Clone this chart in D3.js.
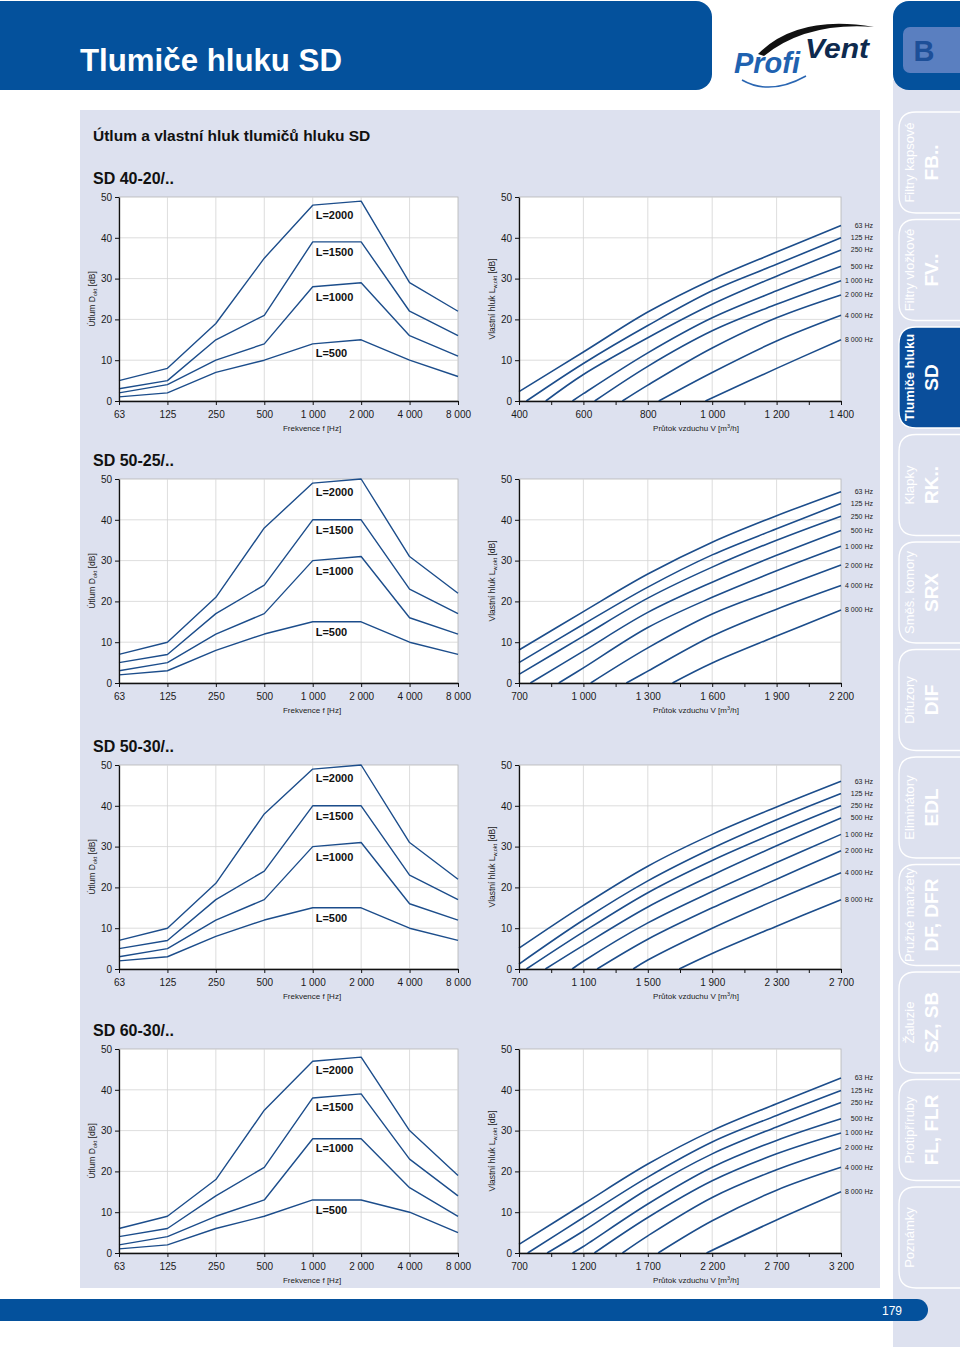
<!DOCTYPE html>
<html>
<head>
<meta charset="utf-8">
<script src="https://cdnjs.cloudflare.com/ajax/libs/d3/7.8.5/d3.min.js"></script>
<style>
body { margin: 0; background: #fff; }
svg { display: block; font-family: "Liberation Sans", Arial, Helvetica, sans-serif; }
</style>
</head>
<body>
<svg id="page" width="960" height="1347"></svg>
<script>
// ---- data ----
var freqCats = ["63", "125", "250", "500", "1 000", "2 000", "4 000", "8 000"];
var lengthNames = ["L=500", "L=1000", "L=1500", "L=2000"];
var bandNames = ["63 Hz", "125 Hz", "250 Hz", "500 Hz", "1 000 Hz", "2 000 Hz", "4 000 Hz", "8 000 Hz"];
var modelNames = ["SD 40-20/..", "SD 50-25/..", "SD 50-30/..", "SD 60-30/.."];
var dbTicks = [0, 10, 20, 30, 40, 50];

// attenuation D_okt [dB], one row per length L=500..2000
var att4020 = [[1, 2, 7, 10, 14, 15, 10, 6], [2, 4, 10, 14, 28, 29, 16, 11], [3, 5, 15, 21, 39, 39, 22, 16], [5, 8, 19, 35, 48, 49, 29, 22]];
var att5025 = [[2, 3, 8, 12, 15, 15, 10, 7], [3, 5, 12, 17, 30, 31, 16, 12], [5, 7, 17, 24, 40, 40, 23, 17], [7, 10, 21, 38, 49, 50, 31, 22]];
var att5030 = [[2, 3, 8, 12, 15, 15, 10, 7], [3, 5, 12, 17, 30, 31, 16, 12], [5, 7, 17, 24, 40, 40, 23, 17], [7, 10, 21, 38, 49, 50, 31, 22]];
var att6030 = [[1, 2, 6, 9, 13, 13, 10, 5], [2, 4, 9, 13, 28, 28, 16, 9], [4, 6, 14, 21, 38, 39, 23, 14], [6, 9, 18, 35, 47, 48, 30, 19]];

// where the L=... labels sit (dB value)
var lab4020 = [11.7, 25.5, 36.5, 45.5];
var lab5025 = [12.4, 27.5, 37.5, 46.7];
var lab5030 = [12.4, 27.5, 37.5, 46.7];
var lab6030 = [10.4, 25.6, 35.7, 44.8];

// air flow axis ticks [m3/h]
var flow4020 = [400, 600, 800, 1000, 1200, 1400];
var flow5025 = [700, 1000, 1300, 1600, 1900, 2200];
var flow5030 = [700, 1100, 1500, 1900, 2300, 2700];
var flow6030 = [700, 1200, 1700, 2200, 2700, 3200];

// own noise L_w,okt [dB] vs flow, one curve per octave band 63..8000 Hz
var noise4020 = [
	[[400, 2.3], [600, 12], [800, 21.8], [1000, 29.8], [1200, 36.5], [1400, 43]],
	[[423, 0], [600, 9.2], [800, 18.5], [1000, 27], [1200, 33.5], [1400, 40]],
	[[483, 0], [600, 6.5], [800, 15.5], [1000, 23.7], [1200, 30.6], [1400, 37]],
	[[566, 0], [600, 1.8], [800, 11.8], [1000, 20.4], [1200, 27], [1400, 33]],
	[[635, 0], [800, 8.5], [1000, 17.2], [1200, 23.7], [1400, 29.5]],
	[[721, 0], [800, 3.9], [1000, 13], [1200, 20.4], [1400, 26]],
	[[834, 0], [1000, 7], [1200, 14.7], [1400, 21]],
	[[979, 0], [1200, 8], [1400, 15]]
];
var noise5025 = [
	[[700, 8.1], [1000, 17.5], [1300, 26.7], [1600, 34.5], [1900, 41], [2200, 46.9]],
	[[700, 5], [1000, 14.4], [1300, 23.5], [1600, 31.4], [1900, 37.8], [2200, 44]],
	[[700, 2.1], [1000, 11.5], [1300, 20.8], [1600, 28.4], [1900, 35], [2200, 40.9]],
	[[753, 0], [1000, 7.8], [1300, 17.3], [1600, 24.7], [1900, 31.3], [2200, 37.4]],
	[[885, 0], [1000, 3.7], [1300, 13.6], [1600, 21], [1900, 27.5], [2200, 33.5]],
	[[1034, 0], [1300, 8.6], [1600, 16.9], [1900, 23], [2200, 28.9]],
	[[1200, 0], [1300, 2.9], [1600, 11.5], [1900, 18.1], [2200, 23.9]],
	[[1415, 0], [1600, 4.9], [1900, 11.5], [2200, 17.9]]
];
var noise5030 = [
	[[700, 5.1], [1100, 15.6], [1500, 25.2], [1900, 33], [2300, 39.7], [2700, 46]],
	[[700, 1.2], [1100, 12], [1500, 21.6], [1900, 29.6], [2300, 36.6], [2700, 43]],
	[[746, 0], [1100, 9.1], [1500, 18.7], [1900, 26.6], [2300, 33.5], [2700, 40]],
	[[864, 0], [1100, 5.8], [1500, 15.2], [1900, 23], [2300, 30.2], [2700, 37]],
	[[1030, 0], [1100, 1.9], [1500, 11.3], [1900, 19], [2300, 26.1], [2700, 33]],
	[[1185, 0], [1500, 7.3], [1900, 15], [2300, 22], [2700, 29]],
	[[1409, 0], [1500, 2.2], [1900, 10], [2300, 17], [2700, 23.6]],
	[[1695, 0], [1900, 3.8], [2300, 10.5], [2700, 17]]
];
var noise6030 = [
	[[700, 2.1], [1200, 12], [1700, 21.8], [2200, 30], [2700, 36.6], [3200, 42.9]],
	[[767, 0], [1200, 8.7], [1700, 18.6], [2200, 27.2], [2700, 33.7], [3200, 39.8]],
	[[918, 0], [1200, 5.4], [1700, 15.7], [2200, 24.3], [2700, 30.9], [3200, 36.9]],
	[[1115, 0], [1200, 1.6], [1700, 12], [2200, 21], [2700, 27.6], [3200, 32.9]],
	[[1285, 0], [1700, 8.7], [2200, 17.7], [2700, 24.3], [3200, 29.4]],
	[[1503, 0], [1700, 4.2], [2200, 13.6], [2700, 20.4], [3200, 25.8]],
	[[1780, 0], [2200, 7.9], [2700, 15.4], [3200, 21]],
	[[2156, 0], [2700, 8.1], [3200, 15]]
];

// side register tabs
var tabSmall = ["Filtry kapsové", "Filtry vložkové", "Tlumiče hluku", "Klapky", "Směš. komory", "Difuzory", "Eliminátory", "Pružné manžety", "Žaluzie", "Protipříruby", "Poznámky"];
var tabCode = ["FB..", "FV..", "SD", "RK..", "SRX", "DIF", "EDL", "DF, DFR", "SZ, SB", "FL, FLR", ""];
var activeTab = 2;

// ---- page ----
var svg = d3.select("#page");
var blue = "#04519c";
var lav = "#dde1ef";
var lineCol = "#1c4d8b";
var fmt = d3.formatLocale({ decimal: ",", thousands: " ", grouping: [3], currency: ["", ""] }).format(",");

//header band
svg.append("rect").attr("x", -20).attr("y", 1).attr("width", 732).attr("height", 89).attr("rx", 16).attr("fill", blue);
svg.append("text").attr("x", 80).attr("y", 71).attr("fill", "#fff")
	.attr("font-size", 32).attr("font-weight", "bold")
	.attr("textLength", 262).attr("lengthAdjust", "spacingAndGlyphs")
	.text("Tlumiče hluku SD");

//logo
svg.append("path").attr("d", "M758,54 Q798,14 874,27 Q806,22 764,56 Z").attr("fill", "#111");
svg.append("path").attr("d", "M742,80 Q770,96 806,76").attr("fill", "none").attr("stroke", "#2a66b2").attr("stroke-width", 1.5);
svg.append("text").attr("x", 734).attr("y", 73).attr("fill", "#1f62b0")
	.attr("font-size", 30).attr("font-weight", "bold").attr("font-style", "italic")
	.attr("textLength", 66).attr("lengthAdjust", "spacingAndGlyphs").text("Profi");
svg.append("text").attr("x", 805).attr("y", 58).attr("fill", "#0e2a4e")
	.attr("font-size", 28).attr("font-weight", "bold").attr("font-style", "italic")
	.attr("textLength", 64).attr("lengthAdjust", "spacingAndGlyphs").text("Vent");

//sidebar
svg.append("rect").attr("x", 893).attr("y", 80).attr("width", 67).attr("height", 1267).attr("fill", lav);
svg.append("rect").attr("x", 893).attr("y", 1).attr("width", 90).attr("height", 89).attr("rx", 16).attr("fill", blue);
svg.append("rect").attr("x", 903).attr("y", 27).attr("width", 70).attr("height", 46).attr("rx", 7).attr("fill", "#5a7fc0");
svg.append("text").attr("x", 924).attr("y", 61).attr("text-anchor", "middle").attr("fill", "#1d4f98")
	.attr("font-size", 29).attr("font-weight", "bold").text("B");

var tabH = 101;
var tabs = svg.selectAll(".tab").data(tabSmall).enter().append("g").attr("class", "tab")
	.attr("transform", function(d, i) { return "translate(0," + (112 + i * 107.5) + ")"; });
tabs.append("path")
	.attr("d", "M964,0 L916,0 Q899,0 899,17 L899," + (tabH - 17) + " Q899," + tabH + " 916," + tabH + " L964," + tabH)
	.attr("fill", function(d, i) { return i == activeTab ? "#0a4e9b" : "none"; })
	.attr("stroke", "#fff").attr("stroke-width", 1.3);
tabs.append("text")
	.attr("transform", "translate(914," + (tabH / 2) + ") rotate(-90)")
	.attr("text-anchor", "middle").attr("fill", "#fff")
	.attr("font-size", 13)
	.attr("font-weight", function(d, i) { return i == activeTab ? "bold" : "normal"; })
	.text(function(d) { return d; });
tabs.append("text")
	.attr("transform", "translate(938," + (tabH / 2) + ") rotate(-90)")
	.attr("text-anchor", "middle").attr("fill", "#fff")
	.attr("font-size", 19).attr("font-weight", "bold")
	.text(function(d, i) { return tabCode[i]; });

//footer band
svg.append("rect").attr("x", -20).attr("y", 1299).attr("width", 948).attr("height", 22).attr("rx", 11).attr("fill", blue);
svg.append("text").attr("x", 892).attr("y", 1315).attr("text-anchor", "middle").attr("fill", "#fff")
	.attr("font-size", 12).text("179");

//main panel
svg.append("rect").attr("x", 80).attr("y", 110).attr("width", 800).attr("height", 1178).attr("fill", lav);
svg.append("text").attr("x", 93).attr("y", 141).attr("fill", "#111")
	.attr("font-size", 15.5).attr("font-weight", "bold").text("Útlum a vlastní hluk tlumičů hluku SD");

function styleAxis(g) {
	g.select(".domain").attr("stroke", "#111").attr("stroke-width", 1.3);
	g.selectAll(".tick line").attr("stroke", "#111").attr("stroke-width", 1);
	g.selectAll(".tick text").attr("fill", "#1a1a1a").attr("font-size", 10)
		.attr("font-family", "'Liberation Sans', Arial, sans-serif");
}

//attenuation chart (left)
function attChart(top, series, labelVals)
{
	var g = svg.append("g");
	var h = 204;
	var x = d3.scalePoint().domain(freqCats).range([119, 458]);
	var y = d3.scaleLinear().domain([0, 50]).range([top + h, top]);

	g.append("rect").attr("x", 119).attr("y", top).attr("width", 339).attr("height", h)
		.attr("fill", "#fff").attr("stroke", "#b4b4b4").attr("stroke-width", 0.8);

	g.selectAll(".gx").data(freqCats.slice(1, -1)).enter().append("line")
		.attr("x1", function(d) { return x(d); }).attr("x2", function(d) { return x(d); })
		.attr("y1", top).attr("y2", top + h)
		.attr("stroke", "#d4d4d4").attr("stroke-width", 0.8);
	g.selectAll(".gy").data(dbTicks.slice(1, -1)).enter().append("line")
		.attr("x1", 119).attr("x2", 458)
		.attr("y1", function(d) { return y(d); }).attr("y2", function(d) { return y(d); })
		.attr("stroke", "#d4d4d4").attr("stroke-width", 0.8);

	var line = d3.line()
		.x(function(d, i) { return x(freqCats[i]); })
		.y(function(d) { return y(d); });
	g.selectAll(".s").data(series).enter().append("path")
		.attr("d", line).attr("fill", "none")
		.attr("stroke", lineCol).attr("stroke-width", 1.4).attr("stroke-linejoin", "round");

	g.selectAll(".lab").data(labelVals).enter().append("text")
		.attr("x", x("1 000") + 3).attr("y", function(d) { return y(d); }).attr("dy", "0.35em")
		.attr("font-size", 11).attr("font-weight", "bold").attr("fill", "#111")
		.text(function(d, i) { return lengthNames[i]; });

	var ax = g.append("g").attr("transform", "translate(0," + (top + h) + ")")
		.call(d3.axisBottom(x).tickSize(4).tickSizeOuter(0).tickPadding(6));
	styleAxis(ax);
	var ay = g.append("g").attr("transform", "translate(119,0)")
		.call(d3.axisLeft(y).tickValues(dbTicks).tickSize(4).tickSizeOuter(0).tickPadding(3));
	styleAxis(ay);

	g.append("text").attr("x", 312).attr("y", top + h + 30).attr("text-anchor", "middle")
		.attr("font-size", 8).attr("fill", "#222").text("Frekvence f [Hz]");
	var t = g.append("text").attr("transform", "translate(95," + (top + h / 2) + ") rotate(-90)")
		.attr("text-anchor", "middle").attr("font-size", 8.5).attr("fill", "#222");
	t.append("tspan").text("Útlum D");
	t.append("tspan").attr("font-size", 5.5).attr("dy", 2).text("okt");
	t.append("tspan").attr("dy", -2).text(" [dB]");
}

//own noise chart (right)
function noiseChart(top, curves, ticks)
{
	var g = svg.append("g");
	var h = 204;
	var x = d3.scaleLinear().domain([ticks[0], ticks[ticks.length - 1]]).range([519, 841]);
	var y = d3.scaleLinear().domain([0, 50]).range([top + h, top]);
	var minor = ticks.slice(1).map(function(t, i) { return (t + ticks[i]) / 2; });

	g.append("rect").attr("x", 519).attr("y", top).attr("width", 322).attr("height", h)
		.attr("fill", "#fff").attr("stroke", "#b4b4b4").attr("stroke-width", 0.8);

	g.selectAll(".gx").data(ticks.slice(1, -1)).enter().append("line")
		.attr("x1", function(d) { return x(d); }).attr("x2", function(d) { return x(d); })
		.attr("y1", top).attr("y2", top + h)
		.attr("stroke", "#d4d4d4").attr("stroke-width", 0.8);
	g.selectAll(".gy").data(dbTicks.slice(1, -1)).enter().append("line")
		.attr("x1", 519).attr("x2", 841)
		.attr("y1", function(d) { return y(d); }).attr("y2", function(d) { return y(d); })
		.attr("stroke", "#d4d4d4").attr("stroke-width", 0.8);

	var line = d3.line()
		.x(function(d) { return x(d[0]); })
		.y(function(d) { return y(d[1]); })
		.curve(d3.curveCatmullRom.alpha(0.5));
	g.selectAll(".c").data(curves).enter().append("path")
		.attr("d", line).attr("fill", "none")
		.attr("stroke", lineCol).attr("stroke-width", 1.6);

	g.selectAll(".lab").data(curves).enter().append("text")
		.attr("x", 873).attr("y", function(d) { return y(d[d.length - 1][1]); }).attr("dy", "0.35em")
		.attr("text-anchor", "end").attr("font-size", 7).attr("fill", "#222")
		.text(function(d, i) { return bandNames[i]; });

	var ax = g.append("g").attr("transform", "translate(0," + (top + h) + ")")
		.call(d3.axisBottom(x).tickValues(ticks.concat(minor)).tickSize(4).tickSizeOuter(0).tickPadding(6)
			.tickFormat(function(d) { return ticks.indexOf(d) >= 0 ? fmt(d) : ""; }));
	styleAxis(ax);
	var ay = g.append("g").attr("transform", "translate(519,0)")
		.call(d3.axisLeft(y).tickValues(dbTicks).tickSize(4).tickSizeOuter(0).tickPadding(3));
	styleAxis(ay);

	var xt = g.append("text").attr("x", 696).attr("y", top + h + 30).attr("text-anchor", "middle")
		.attr("font-size", 8).attr("fill", "#222");
	xt.append("tspan").text("Průtok vzduchu V [m");
	xt.append("tspan").attr("font-size", 5.5).attr("dy", -3).text("3");
	xt.append("tspan").attr("dy", 3).text("/h]");
	var t = g.append("text").attr("transform", "translate(495," + (top + h / 2) + ") rotate(-90)")
		.attr("text-anchor", "middle").attr("font-size", 8.5).attr("fill", "#222");
	t.append("tspan").text("Vlastní hluk L");
	t.append("tspan").attr("font-size", 5.5).attr("dy", 2).text("w,okt");
	t.append("tspan").attr("dy", -2).text(" [dB]");
}

var rowTops = [197, 479, 765, 1049];
var attSets = [att4020, att5025, att5030, att6030];
var labSets = [lab4020, lab5025, lab5030, lab6030];
var noiseSets = [noise4020, noise5025, noise5030, noise6030];
var flowSets = [flow4020, flow5025, flow5030, flow6030];

for (var r = 0; r < 4; r++) {
	svg.append("text").attr("x", 93).attr("y", rowTops[r] - 13).attr("fill", "#111")
		.attr("font-size", 16).attr("font-weight", "bold").text(modelNames[r]);
	attChart(rowTops[r], attSets[r], labSets[r]);
	noiseChart(rowTops[r], noiseSets[r], flowSets[r]);
}
</script>
</body>
</html>
